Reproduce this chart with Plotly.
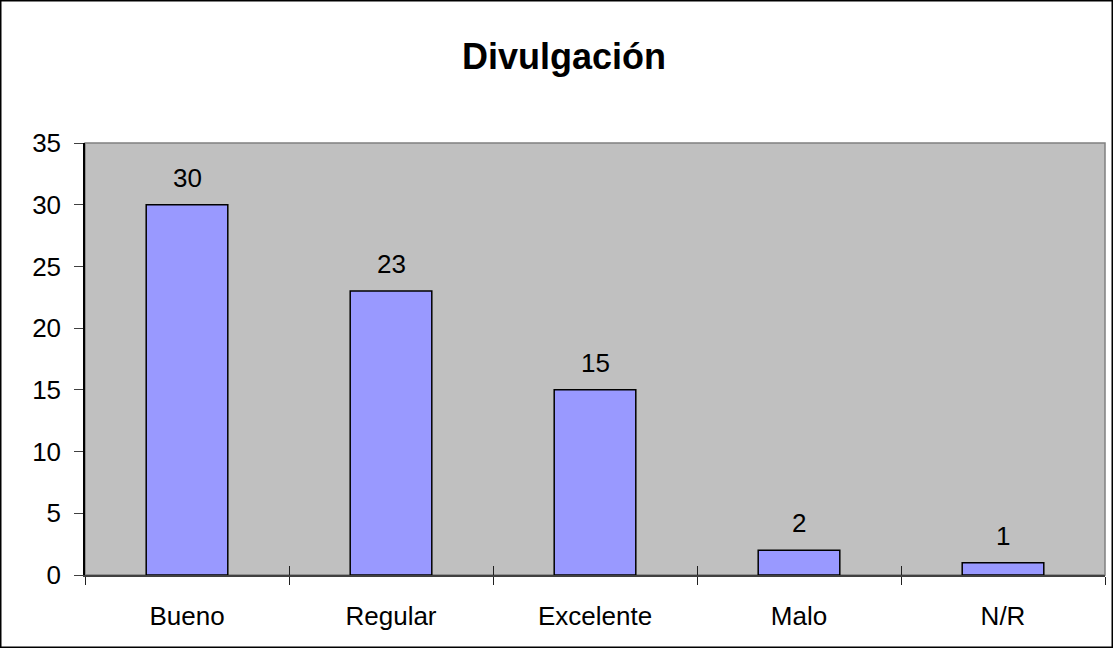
import plotly.graph_objects as go

categories = ["Bueno", "Regular", "Excelente", "Malo", "N/R"]
values = [30, 23, 15, 2, 1]

W, H = 1113, 648
L, R, T, B = 85, 8, 143, 73
pw, ph = W - L - R, H - T - B

font_fam = "Arial, Liberation Sans, sans-serif"

fig = go.Figure()

fig.add_trace(go.Bar(
    x=categories,
    y=values,
    marker_color="#9999FF",
    marker_line=dict(color="black", width=1.5),
    width=0.4,
    hoverinfo="x+y",
))

# second axis just for the inward half of the crossing x ticks
fig.add_trace(go.Scatter(x=categories, y=values, xaxis="x2", mode="none",
                         showlegend=False, hoverinfo="skip"))

# value labels above the bars
for cat, val in zip(categories, values):
    fig.add_annotation(x=cat, y=val, text=str(val), showarrow=False,
                       yanchor="middle", yshift=27,
                       font=dict(size=26, color="black", family=font_fam))

fig.update_layout(
    width=W, height=H,
    margin=dict(l=L, r=R, t=T, b=B),
    paper_bgcolor="white",
    plot_bgcolor="#C0C0C0",
    showlegend=False,
    font=dict(family=font_fam, color="black"),
    title=dict(text="<b>Divulgación</b>", x=564 / W, xanchor="center",
               y=1 - 56 / H, yanchor="middle",
               font=dict(size=36, family=font_fam, color="black")),
    xaxis=dict(type="category", range=[-0.5, 4.5], tickson="boundaries",
               ticks="outside", ticklen=8, tickcolor="#202020", tickwidth=1,
               showline=True, linecolor="#404040", linewidth=2,
               showgrid=False, tickfont=dict(size=26), ticklabelstandoff=17,
               automargin=False),
    xaxis2=dict(type="category", range=[-0.5, 4.5], overlaying="x",
                matches="x", tickson="boundaries", ticks="inside", ticklen=9,
                tickcolor="#202020", showticklabels=False, showgrid=False,
                showline=False),
    yaxis=dict(range=[0, 35], dtick=5, ticks="outside", ticklen=9,
               tickcolor="#404040", showline=True, linecolor="black",
               linewidth=1.5, showgrid=False, zeroline=False,
               tickfont=dict(size=26), ticklabelstandoff=8,
               automargin=False),
    shapes=[
        # plot area frame
        dict(type="rect", xref="paper", yref="paper", x0=0, x1=1, y0=0, y1=1,
             line=dict(color="#808080", width=1.5), layer="below"),
        # outer chart border
        dict(type="rect", xref="paper", yref="paper",
             x0=(-L + 0.75) / pw, x1=1 + (R - 0.75) / pw,
             y0=(-B + 0.75) / ph, y1=1 + (T - 0.75) / ph,
             line=dict(color="black", width=1.5)),
    ],
)

fig.write_html("out.html", config={"displayModeBar": False},
               post_script="document.body.style.margin='0';")
